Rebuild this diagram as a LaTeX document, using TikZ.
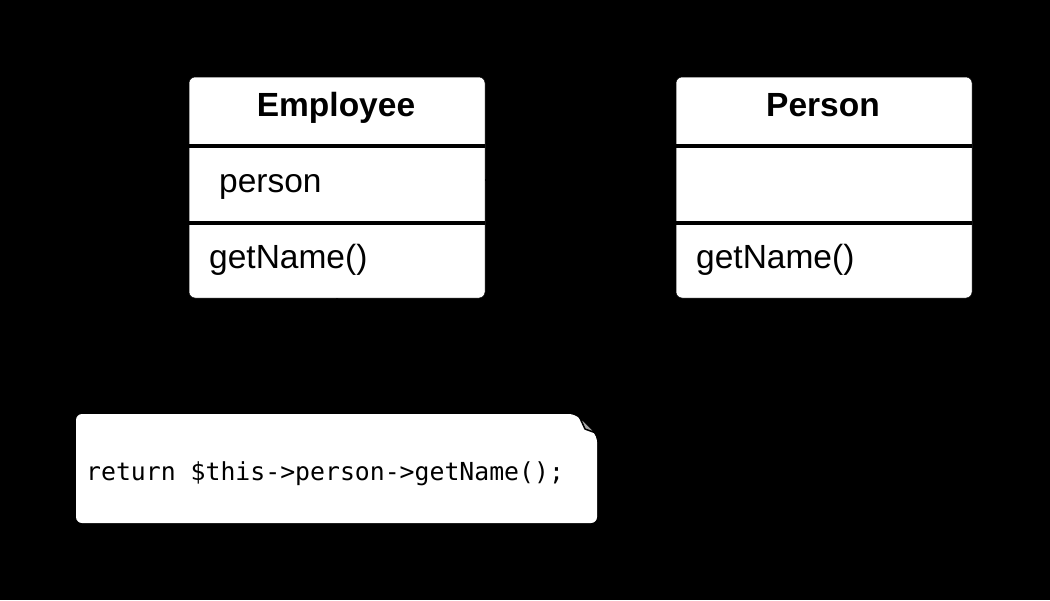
\documentclass[tikz,border=0pt]{standalone}
\usepackage{fontspec}
\setmainfont{Liberation Sans}
\setmonofont{DejaVu Sans Mono}
\usetikzlibrary{arrows.meta}
\begin{document}
\begin{tikzpicture}[x=1pt,y=-1pt,
  classbox/.style={rectangle,fill=white,draw=black,line width=0.5pt,rounded corners=6pt,minimum width=296pt,minimum height=221pt,inner sep=0pt},
  sep/.style={black,line width=4.5pt},
  title/.style={font=\fontsize{33.5}{40}\selectfont\bfseries,anchor=base,inner sep=0pt},
  member/.style={font=\fontsize{33.5}{40}\selectfont,anchor=base west,inner sep=0pt},
  code/.style={font=\fontsize{24.8}{30}\selectfont\ttfamily,anchor=base west,inner sep=0pt},
  assoc/.style={black,line width=2pt,-{Stealth[length=14pt]}},
  dep/.style={black,line width=2pt,dashed}]
\fill[black] (0,0) rectangle (1050,600);
\useasboundingbox (0,0) rectangle (1050,600);
% Employee
\node[classbox] (emp) at (337,187.5) {};
\draw[sep] (189,146) -- (485,146);
\draw[sep] (189,223) -- (485,223);
\node[title] (empT) at (336,116) {Employee};
\node[member] (empA) at (219,192) {person};
\node[member] (empM) at (209,268) {getName()};
% Person
\node[classbox] (per) at (824,187.5) {};
\draw[sep] (676,146) -- (972,146);
\draw[sep] (676,223) -- (972,223);
\node[title] (perT) at (823,116) {Person};
\node[member] (perM) at (696,268) {getName()};
% Note
\node[rectangle,inner sep=0pt,minimum width=521pt,minimum height=109pt] (note) at (336.5,468.5) {};
\fill[white,rounded corners=6pt] (76,414) -- (575,414) -- (597,436) -- (597,523) -- (76,523) -- cycle;
\draw[black,line width=1.5pt,fill=black!35,line join=round] (579,416) -- (585,429) -- (596,433) -- cycle;
\node[code] (noteT) at (86,480) {return \$this->person->getName();};
% connectors (black, as in the reference)
\draw[assoc] (emp.east |- 0,180) -- (per.west |- 0,180);
\draw[dep] (emp.south) -- (note.north);
\end{tikzpicture}
\end{document}
